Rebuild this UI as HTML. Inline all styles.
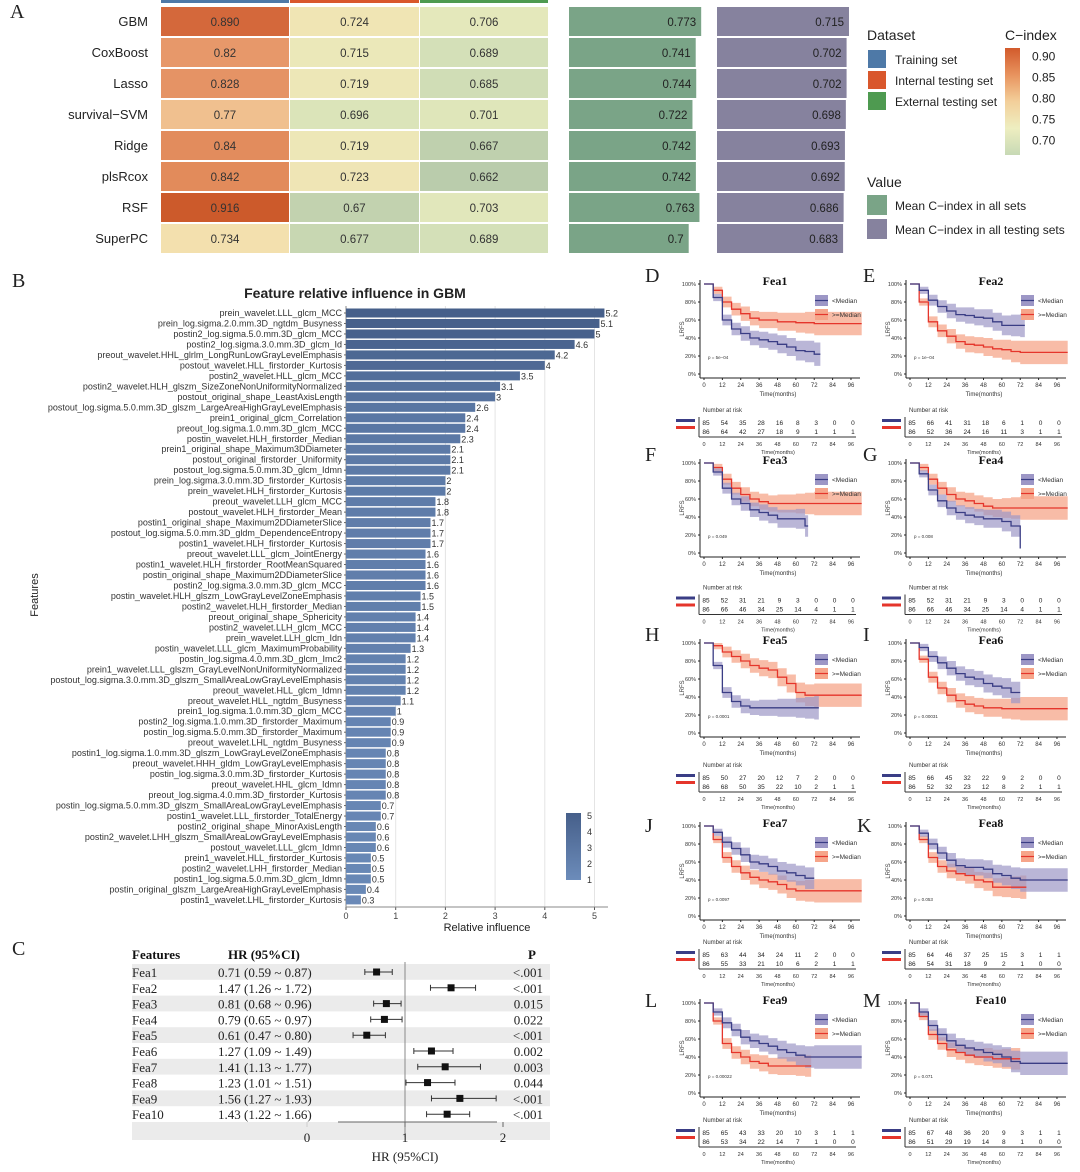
<!DOCTYPE html>
<html><head><meta charset="utf-8"><style>
html,body{margin:0;padding:0;background:#fff;}
svg{display:block;font-family:"Liberation Sans",sans-serif;}
.serif{font-family:"Liberation Serif",serif;}
</style></head><body>
<svg id="fig" xmlns="http://www.w3.org/2000/svg" width="1080" height="1172" viewBox="0 0 1080 1172"></svg>
<script>
// ---------- Panel A data ----------
const models = ["GBM","CoxBoost","Lasso","survival\u2212SVM","Ridge","plsRcox","RSF","SuperPC"];
const trainVals = [0.890,0.82,0.828,0.77,0.84,0.842,0.916,0.734];
const internalVals = [0.724,0.715,0.719,0.696,0.719,0.723,0.67,0.677];
const externalVals = [0.706,0.689,0.685,0.701,0.667,0.662,0.703,0.689];
const trainLabels = ["0.890","0.82","0.828","0.77","0.84","0.842","0.916","0.734"];
const meanAll = [0.773,0.741,0.744,0.722,0.742,0.742,0.763,0.7];
const meanTest = [0.715,0.702,0.702,0.698,0.693,0.692,0.686,0.683];
const cbarTicks = [0.90,0.85,0.80,0.75,0.70];
// ---------- Panel B data ----------
const featNames = ["prein_wavelet.LLL_glcm_MCC","prein_log.sigma.2.0.mm.3D_ngtdm_Busyness","postin2_log.sigma.5.0.mm.3D_glcm_MCC","postin2_log.sigma.3.0.mm.3D_glcm_Id","preout_wavelet.HHL_glrlm_LongRunLowGrayLevelEmphasis","postout_wavelet.HLL_firstorder_Kurtosis","postin2_wavelet.HLL_glcm_MCC","postin2_wavelet.HLH_glszm_SizeZoneNonUniformityNormalized","postout_original_shape_LeastAxisLength","postout_log.sigma.5.0.mm.3D_glszm_LargeAreaHighGrayLevelEmphasis","prein1_original_glcm_Correlation","preout_log.sigma.1.0.mm.3D_glcm_MCC","postin_wavelet.HLH_firstorder_Median","prein1_original_shape_Maximum3DDiameter","postout_original_firstorder_Uniformity","postout_log.sigma.5.0.mm.3D_glcm_Idmn","prein_log.sigma.3.0.mm.3D_firstorder_Kurtosis","prein_wavelet.HLH_firstorder_Kurtosis","preout_wavelet.LLH_glcm_MCC","postout_wavelet.HLH_firstorder_Mean","postin1_original_shape_Maximum2DDiameterSlice","postout_log.sigma.5.0.mm.3D_gldm_DependenceEntropy","postin1_wavelet.HLH_firstorder_Kurtosis","preout_wavelet.LLL_glcm_JointEnergy","postin1_wavelet.HLH_firstorder_RootMeanSquared","postin_original_shape_Maximum2DDiameterSlice","postin2_log.sigma.3.0.mm.3D_glcm_MCC","postin_wavelet.HLH_glszm_LowGrayLevelZoneEmphasis","postin2_wavelet.HLH_firstorder_Median","preout_original_shape_Sphericity","postin2_wavelet.LLH_glcm_MCC","prein_wavelet.LLH_glcm_Idn","postin_wavelet.LLL_glcm_MaximumProbability","postin_log.sigma.4.0.mm.3D_glcm_Imc2","prein1_wavelet.LLL_glszm_GrayLevelNonUniformityNormalized","postout_log.sigma.3.0.mm.3D_glszm_SmallAreaLowGrayLevelEmphasis","preout_wavelet.HLL_glcm_Idmn","preout_wavelet.HLL_ngtdm_Busyness","prein1_log.sigma.1.0.mm.3D_glcm_MCC","postin2_log.sigma.1.0.mm.3D_firstorder_Maximum","postin_log.sigma.5.0.mm.3D_firstorder_Maximum","preout_wavelet.LHL_ngtdm_Busyness","postin1_log.sigma.1.0.mm.3D_glszm_LowGrayLevelZoneEmphasis","preout_wavelet.HHH_gldm_LowGrayLevelEmphasis","postin_log.sigma.3.0.mm.3D_firstorder_Kurtosis","preout_wavelet.HHL_glcm_Idmn","preout_log.sigma.4.0.mm.3D_firstorder_Kurtosis","postin_log.sigma.5.0.mm.3D_glszm_SmallAreaLowGrayLevelEmphasis","postin1_wavelet.LLL_firstorder_TotalEnergy","postin2_original_shape_MinorAxisLength","postin2_wavelet.LHH_glszm_SmallAreaLowGrayLevelEmphasis","postout_wavelet.LLL_glcm_Idmn","prein1_wavelet.HLL_firstorder_Kurtosis","postin2_wavelet.LHH_firstorder_Median","postin1_log.sigma.5.0.mm.3D_glcm_Idmn","postin_original_glszm_LargeAreaHighGrayLevelEmphasis","postin1_wavelet.LHL_firstorder_Kurtosis"];
const featInfl = [5.2,5.1,5,4.6,4.2,4,3.5,3.1,3,2.6,2.4,2.4,2.3,2.1,2.1,2.1,2,2,1.8,1.8,1.7,1.7,1.7,1.6,1.6,1.6,1.6,1.5,1.5,1.4,1.4,1.4,1.3,1.2,1.2,1.2,1.2,1.1,1,0.9,0.9,0.9,0.8,0.8,0.8,0.8,0.8,0.7,0.7,0.6,0.6,0.6,0.5,0.5,0.5,0.4,0.3];
const inflTicks = [0,1,2,3,4,5];
// ---------- Panel C data ----------
const feaLabels = ["Fea1","Fea2","Fea3","Fea4","Fea5","Fea6","Fea7","Fea8","Fea9","Fea10"];
const hrEst = [0.71,1.47,0.81,0.79,0.61,1.27,1.41,1.23,1.56,1.43];
const hrLo = [0.59,1.26,0.68,0.65,0.47,1.09,1.13,1.01,1.27,1.22];
const hrHi = [0.87,1.72,0.96,0.97,0.80,1.49,1.77,1.51,1.93,1.66];
const pLabels = ["<.001","<.001","0.015","0.022","<.001","0.002","0.003","0.044","<.001","<.001"];
const hrTicks = [0,1,2];
// ---------- KM data ----------
const kmTimes = [0,6,12,18,24,30,36,42,48,54,60,66,72];
const kmBlue = [
 [1,.85,.6,.5,.45,.4,.38,.36,.33,.3,.26,.25,.22],
 [1,.93,.82,.75,.7,.66,.65,.63,.62,.58,.54,.54,.54],
 [1,.9,.72,.6,.55,.48,.45,.42,.38,.38,.38,.3,.3],
 [1,.88,.7,.58,.5,.45,.42,.4,.38,.38,.35,.3,.05],
 [1,.75,.45,.35,.3,.28,.28,.28,.28,.28,.28,.28,.28],
 [1,.95,.85,.78,.72,.66,.62,.6,.55,.52,.5,.45,.45],
 [1,.93,.82,.75,.68,.6,.58,.55,.5,.48,.45,.42,.42],
 [1,.92,.8,.7,.62,.56,.54,.54,.52,.47,.45,.42,.4],
 [1,.9,.78,.7,.62,.58,.55,.52,.48,.45,.42,.4,.4],
 [1,.9,.75,.65,.58,.53,.5,.48,.45,.43,.4,.35,.33]];
const kmRed = [
 [1,.93,.8,.72,.67,.62,.6,.6,.58,.58,.57,.57,.56],
 [1,.8,.58,.48,.42,.36,.33,.32,.3,.28,.27,.25,.24],
 [1,.95,.82,.72,.65,.6,.57,.55,.55,.55,.55,.55,.55],
 [1,.95,.82,.72,.65,.6,.58,.55,.52,.5,.5,.5,.5],
 [1,.97,.9,.85,.8,.75,.72,.7,.62,.55,.45,.42,.42],
 [1,.82,.62,.5,.42,.36,.32,.3,.28,.28,.27,.27,.27],
 [1,.85,.65,.55,.48,.43,.4,.38,.35,.3,.28,.28,.28],
 [1,.85,.65,.55,.5,.47,.45,.4,.38,.32,.32,.32,.32],
 [1,.8,.55,.45,.4,.35,.33,.3,.3,.3,.3,.3,.3],
 [1,.85,.65,.55,.48,.45,.42,.4,.4,.38,.38,.38,.38]];
const kmBlueEnd = [76,75,68,72,75,72,72,105,105,105];
const kmRedEnd = [105,105,105,105,105,105,105,76,70,72];
const kmCI = [0,.04,.06,.07,.08,.08,.09,.09,.1,.1,.11,.12,.13];
const kmP = ["p = 5e\u221204","p = 1e\u221204","p = 0.049","p = 0.008","p = 0.0001","p = 0.00031","p = 0.0097","p = 0.053","p = 0.00022","p = 0.071"];
const riskBlue = [[85,54,35,28,16,8,3,0,0],[85,66,41,31,18,6,1,0,0],[85,52,31,21,9,3,0,0,0],[85,52,31,21,9,3,0,0,0],[85,50,27,20,12,7,2,0,0],[85,66,45,32,22,9,2,0,0],[85,63,44,34,24,11,2,0,0],[85,64,46,37,25,15,3,1,1],[85,65,43,33,20,10,3,1,1],[85,67,48,36,20,9,3,1,1]];
const riskRed = [[86,64,42,27,18,9,1,1,1],[86,52,36,24,16,11,3,1,1],[86,66,46,34,25,14,4,1,1],[86,66,46,34,25,14,4,1,1],[86,68,50,35,22,10,2,1,1],[86,52,32,23,12,8,2,1,1],[86,55,33,21,10,6,2,1,1],[86,54,31,18,9,2,1,0,0],[86,53,34,22,14,7,1,0,0],[86,51,29,19,14,8,1,0,0]];
const kmTickLabels = [0,12,24,36,48,60,72,84,96];
const kmYTicks = ["0%","20%","40%","60%","80%","100%"];
const panelLetters = ["D","E","F","G","H","I","J","K","L","M"];

const NS="http://www.w3.org/2000/svg";
const svg=document.getElementById('fig');
function mk(tag,attrs,name,parent){
  const el=document.createElementNS(NS,tag);
  for(const k in attrs) el.setAttribute(k,attrs[k]);
  
  
  (parent||svg).appendChild(el);
  return el;
}
function txt(x,y,s,attrs,name,parent){const t=mk('text',Object.assign({x:x,y:y},attrs||{}),name,parent);t.textContent=s;return t;}
function hex(c){return [parseInt(c.slice(1,3),16),parseInt(c.slice(3,5),16),parseInt(c.slice(5,7),16)];}
function interp(stops,v){
  if(v<=stops[0][0])return stops[0][1];
  for(let i=1;i<stops.length;i++){if(v<=stops[i][0]){const a=stops[i-1],b=stops[i],f=(v-a[0])/(b[0]-a[0]);const ca=hex(a[1]),cb=hex(b[1]);return 'rgb('+ca.map((x,j)=>Math.round(x+(cb[j]-x)*f)).join(',')+')';}}
  return stops[stops.length-1][1];
}
const heatStops=[[0.66,'#b8cbab'],[0.69,'#d5e1b8'],[0.71,'#e8eabc'],[0.73,'#f3e3b1'],[0.77,'#f0c08f'],[0.82,'#e7986a'],[0.85,'#e08656'],[0.89,'#d4683b'],[0.92,'#cb5828']];

// letters
[["A",10,18],["B",12,287],["C",12,955]].forEach(l=>txt(l[1],l[2],l[0],{'font-size':20,'class':'serif',fill:'#222'},'panel-letter-'+l[0].toLowerCase()));

// ---------- Panel A ----------
const gA=mk('g',{},'panel-a-heatmap');
const colX=[161,290,420], colW=[128,129,128], rowY0=7, rowH=31;
[['#4e79a7',0],['#d9572c',1],['#4e9a50',2]].forEach(c=>mk('rect',{x:colX[c[1]],y:0,width:colW[c[1]],height:3,fill:c[0]},'dataset-strip-'+c[1],gA));
const colsVals=[trainVals,internalVals,externalVals];
models.forEach((m,i)=>{
  const y=rowY0+i*rowH;
  txt(148,y+19,m,{'font-size':13,'text-anchor':'end',fill:'#222'},'model-label',gA);
  colsVals.forEach((arr,j)=>{
    mk('rect',{x:colX[j],y:y,width:colW[j],height:rowH-2,fill:interp(heatStops,arr[i])},'heat-cell',gA);
    const lab=j===0?trainLabels[i]:String(arr[i]);
    txt(colX[j]+colW[j]/2,y+19,lab,{'font-size':11.5,'text-anchor':'middle',fill:'#333'},'heat-value',gA);
  });
  const wA=(meanAll[i])*171;
  mk('rect',{x:569,y:y,width:wA,height:rowH-2,fill:'#7aa487'},'mean-all-bar',gA);
  txt(569+wA-5,y+19,String(meanAll[i]),{'font-size':11.5,'text-anchor':'end',fill:'#222'},'mean-all-value',gA);
  const wT=(meanTest[i])*184.6;
  mk('rect',{x:717,y:y,width:wT,height:rowH-2,fill:'#86829e'},'mean-test-bar',gA);
  txt(717+wT-5,y+19,String(meanTest[i]),{'font-size':11.5,'text-anchor':'end',fill:'#222'},'mean-test-value',gA);
});
// legends
const gL=mk('g',{},'panel-a-legend');
txt(867,40,'Dataset',{'font-size':14,fill:'#222'},'legend-title-dataset',gL);
[['#4e79a7','Training set'],['#d9572c','Internal testing set'],['#4e9a50','External testing set']].forEach((d,i)=>{
  mk('rect',{x:868,y:50+i*21,width:18,height:18,fill:d[0]},'legend-swatch',gL);
  txt(895,64+i*21,d[1],{'font-size':12,fill:'#222'},'legend-entry',gL);
});
txt(1005,40,'C\u2212index',{'font-size':14,fill:'#222'},'legend-title-cindex',gL);
const defs=mk('defs',{},'defs');
const lg=mk('linearGradient',{id:'cg',x1:0,y1:1,x2:0,y2:0},'cindex-gradient',defs);
[[0,'#c7d9b5'],[0.25,'#eeeec0'],[0.5,'#f3cf9a'],[0.75,'#e8935e'],[1,'#d25a2c']].forEach(s=>mk('stop',{offset:s[0],'stop-color':s[1]},'gradient-stop',lg));
mk('rect',{x:1005,y:48,width:15,height:107,fill:'url(#cg)'},'cindex-colorbar',gL);
const cbY=v=>155-(v-0.665)/(0.92-0.665)*107;
cbarTicks.forEach(v=>txt(1032,cbY(v)+4,v.toFixed(2),{'font-size':12,fill:'#222'},'colorbar-tick',gL));
txt(867,187,'Value',{'font-size':14,fill:'#222'},'legend-title-value',gL);
[['#7aa487','Mean C\u2212index in all sets'],['#86829e','Mean C\u2212index in all testing sets']].forEach((d,i)=>{
  mk('rect',{x:867,y:195+i*24,width:20,height:20,fill:d[0]},'legend-swatch',gL);
  txt(895,210+i*24,d[1],{'font-size':12,fill:'#222'},'legend-entry',gL);
});

// ---------- Panel B ----------
const gB=mk('g',{},'panel-b-influence-chart');
const bx0=346, bScale=49.7, bTop=313, bStep=10.48, bBottom=907;
const bxs=v=>bx0+v*bScale;
inflTicks.forEach(t=>{
  mk('line',{x1:bxs(t),x2:bxs(t),y1:306,y2:bBottom,stroke:'#e4e4e4','stroke-width':1},'grid-line',gB);
  mk('line',{x1:bxs(t),x2:bxs(t),y1:bBottom,y2:bBottom+3,stroke:'#555'},'x-tick',gB);
  txt(bxs(t),bBottom+12,String(t),{'font-size':9,'text-anchor':'middle',fill:'#444'},'x-tick-label',gB);
});
mk('line',{x1:bx0,x2:608,y1:bBottom,y2:bBottom,stroke:'#888'},'x-axis-line',gB);
mk('line',{x1:bx0,x2:bx0,y1:306,y2:bBottom,stroke:'#888'},'y-axis-line',gB);
txt(355,298,'Feature relative influence in GBM',{'font-size':14,'font-weight':'bold','text-anchor':'middle',fill:'#222'},'chart-title',gB);
txt(487,931,'Relative influence',{'font-size':11,'text-anchor':'middle',fill:'#222'},'x-axis-title',gB);
txt(0,0,'Features',{'font-size':11,'text-anchor':'middle',fill:'#222',transform:'translate(38,595) rotate(-90)'},'y-axis-title',gB);
const barStops=[[0,'#6c8cba'],[5.2,'#465f8a']];
featNames.forEach((n,i)=>{
  const yc=bTop+i*bStep;
  txt(bx0-4,yc+3,n,{'font-size':9,'text-anchor':'end',fill:'#333'},'feature-label',gB);
  mk('line',{x1:bx0-2,x2:bx0,y1:yc,y2:yc,stroke:'#666'},'y-tick',gB);
  mk('rect',{x:bx0,y:yc-4.5,width:bxs(featInfl[i])-bx0,height:9,fill:interp(barStops,featInfl[i])},'influence-bar',gB);
  txt(bxs(featInfl[i])+1,yc+3.5,String(featInfl[i]),{'font-size':9,fill:'#333'},'bar-value',gB);
});
const lg2=mk('linearGradient',{id:'bg',x1:0,y1:1,x2:0,y2:0},'influence-gradient',defs);
[[0,'#6c8cba'],[1,'#465f8a']].forEach(s=>mk('stop',{offset:s[0],'stop-color':s[1]},'gradient-stop',lg2));
mk('rect',{x:566,y:813,width:15,height:67,fill:'url(#bg)'},'influence-colorbar',gB);
[5,4,3,2,1].forEach((v,i)=>txt(587,819+i*16,String(v),{'font-size':9,fill:'#333'},'colorbar-tick',gB));

// ---------- Panel C ----------
const gC=mk('g',{},'panel-c-forest-plot');
const hx=v=>307+98*v;
const cRow0=972, cStep=15.8;
feaLabels.forEach((f,i)=>{if(i%2===0)mk('rect',{x:132,y:cRow0+i*cStep-8,width:418,height:cStep,fill:'#ebebeb'},'row-shade',gC);});
mk('rect',{x:132,y:cRow0+10*cStep-8,width:418,height:18,fill:'#ebebeb'},'axis-row-shade',gC);
txt(132,959,'Features',{'font-size':13,'font-weight':'bold','class':'serif',fill:'#111'},'header-features',gC);
txt(228,959,'HR (95%CI)',{'font-size':13,'font-weight':'bold','class':'serif',fill:'#111'},'header-hr',gC);
txt(528,959,'P',{'font-size':13,'font-weight':'bold','class':'serif',fill:'#111'},'header-p',gC);
mk('line',{x1:hx(1),x2:hx(1),y1:962,y2:1137,stroke:'#888','stroke-width':1},'reference-line',gC);
feaLabels.forEach((f,i)=>{
  const y=cRow0+i*cStep;
  txt(132,y+5,f,{'font-size':13,'class':'serif',fill:'#222'},'feature-name',gC);
  txt(218,y+5,hrEst[i].toFixed(2)+' ('+hrLo[i].toFixed(2)+' ~ '+hrHi[i].toFixed(2)+')',{'font-size':13,'class':'serif',fill:'#222'},'hr-text',gC);
  txt(543,y+5,pLabels[i],{'font-size':13,'class':'serif','text-anchor':'end',fill:'#222'},'p-value',gC);
  mk('line',{x1:hx(hrLo[i]),x2:hx(hrHi[i]),y1:y,y2:y,stroke:'#333','stroke-width':1},'ci-line',gC);
  mk('line',{x1:hx(hrLo[i]),x2:hx(hrLo[i]),y1:y-3,y2:y+3,stroke:'#333'},'ci-cap',gC);
  mk('line',{x1:hx(hrHi[i]),x2:hx(hrHi[i]),y1:y-3,y2:y+3,stroke:'#333'},'ci-cap',gC);
  mk('rect',{x:hx(hrEst[i])-3.5,y:y-3.5,width:7,height:7,fill:'#111'},'hr-point',gC);
});
mk('line',{x1:338,x2:497,y1:1122,y2:1122,stroke:'#666'},'x-axis-line',gC);
hrTicks.forEach(t=>{
  mk('line',{x1:hx(t),x2:hx(t),y1:1122,y2:1127,stroke:t===0?'#ccc':'#666'},'x-tick',gC);
  txt(hx(t),1142,String(t),{'font-size':13,'class':'serif','text-anchor':'middle',fill:'#222'},'x-tick-label',gC);
});
txt(hx(1),1161,'HR (95%CI)',{'font-size':13,'class':'serif','text-anchor':'middle',fill:'#222'},'x-axis-title',gC);

// ---------- KM panels ----------
const rowOff=[0,179,359,542,719];
const riskOff=[0,177.5,355,532,710];
const BLUE='#3a3d85', RED='#e5352b';
function stepPath(vals,end,xs,ys,clipEnd){
  let d='M'+xs(0)+','+ys(vals[0]);
  for(let i=1;i<kmTimes.length;i++){
    if(kmTimes[i]>end)break;
    d+=' H'+xs(kmTimes[i])+' V'+ys(vals[i]);
  }
  d+=' H'+xs(Math.min(end,clipEnd));
  return d;
}
function bandPath(vals,end,xs,ys,clipEnd){
  const up=[],lo=[];
  for(let i=0;i<kmTimes.length;i++){
    if(kmTimes[i]>end)break;
    const t1=(i+1<kmTimes.length&&kmTimes[i+1]<=end)?kmTimes[i+1]:Math.min(end,clipEnd);
    const u=Math.min(1,vals[i]+kmCI[i]), l=Math.max(0,vals[i]-kmCI[i]);
    up.push([xs(kmTimes[i]),ys(u)],[xs(t1),ys(u)]);
    lo.push([xs(kmTimes[i]),ys(l)],[xs(t1),ys(l)]);
  }
  return 'M'+up.map(p=>p.join(',')).join(' L')+' L'+lo.reverse().map(p=>p.join(',')).join(' L')+' Z';
}
for(let k=0;k<10;k++){
  const cx=(k%2)*206, ry=rowOff[Math.floor(k/2)], rr=riskOff[Math.floor(k/2)];
  const g=mk('g',{},'km-panel-'+feaLabels[k].toLowerCase());
  const xs=t=>704+cx+t*1.531, ys=v=>374+ry-v*90;
  const clipEnd=103;
  txt(645+(k%2)*218-(k===7?6:0),282+ry+(k>=6?8:0)+(k>=8?-2:0),panelLetters[k],{'font-size':20,'class':'serif',fill:'#222'},'panel-letter',g);
  txt(775+cx+10*(k%2),285+ry,feaLabels[k],{'font-size':12,'font-weight':'bold','class':'serif','text-anchor':'middle',fill:'#111'},'km-title',g);
  mk('path',{d:bandPath(kmRed[k],kmRedEnd[k],xs,ys,clipEnd),fill:'#f6a58a','fill-opacity':0.75},'ci-band-high',g);
  mk('path',{d:bandPath(kmBlue[k],kmBlueEnd[k],xs,ys,clipEnd),fill:'#9d97c6','fill-opacity':0.7},'ci-band-low',g);
  mk('path',{d:stepPath(kmRed[k],kmRedEnd[k],xs,ys,clipEnd),fill:'none',stroke:RED,'stroke-width':1.3},'curve-high',g);
  mk('path',{d:stepPath(kmBlue[k],kmBlueEnd[k],xs,ys,clipEnd),fill:'none',stroke:BLUE,'stroke-width':1.3},'curve-low',g);
  mk('line',{x1:700+cx,x2:700+cx,y1:280+ry,y2:378+ry,stroke:'#222'},'y-axis',g);
  mk('line',{x1:700+cx,x2:860+cx,y1:378+ry,y2:378+ry,stroke:'#222'},'x-axis',g);
  kmYTicks.forEach((l,i)=>{
    const y=ys(i*0.2);
    mk('line',{x1:698+cx,x2:700+cx,y1:y,y2:y,stroke:'#222'},'y-tick',g);
    txt(696+cx,y+2,l,{'font-size':5.5,'text-anchor':'end',fill:'#333'},'y-tick-label',g);
  });
  kmTickLabels.forEach(t=>{
    mk('line',{x1:xs(t),x2:xs(t),y1:378+ry,y2:380+ry,stroke:'#222'},'x-tick',g);
    txt(xs(t),387+ry,String(t),{'font-size':6,'text-anchor':'middle',fill:'#333'},'x-tick-label',g);
  });
  txt(778+cx,396+ry,'Time(months)',{'font-size':6,'text-anchor':'middle',fill:'#333'},'x-axis-title',g);
  txt(0,0,'LRFS',{'font-size':6,'text-anchor':'middle',fill:'#333',transform:'translate('+(684+cx)+','+(329+ry)+') rotate(-90)'},'y-axis-title',g);
  txt(708+cx,359+ry,kmP[k],{'font-size':4.5,fill:'#333'},'p-value',g);
  mk('rect',{x:815+cx,y:295+ry,width:13,height:11,fill:'#9d97c6'},'legend-swatch-low',g);
  mk('line',{x1:815+cx,x2:828+cx,y1:300.5+ry,y2:300.5+ry,stroke:BLUE,'stroke-width':1.2},'legend-line-low',g);
  txt(832+cx,303+ry,'<Median',{'font-size':6.5,fill:'#333'},'legend-entry-low',g);
  mk('rect',{x:815+cx,y:309+ry,width:13,height:11,fill:'#f6a58a'},'legend-swatch-high',g);
  mk('line',{x1:815+cx,x2:828+cx,y1:314.5+ry,y2:314.5+ry,stroke:RED,'stroke-width':1.2},'legend-line-high',g);
  txt(832+cx,317+ry,'>=Median',{'font-size':6.5,fill:'#333'},'legend-entry-high',g);
  // risk table
  txt(703+cx,412+rr,'Number at risk',{'font-size':6,fill:'#333'},'risk-title',g);
  mk('rect',{x:676+cx,y:419+rr,width:19,height:3,fill:BLUE},'risk-color-low',g);
  mk('rect',{x:676+cx,y:426+rr,width:19,height:3,fill:RED},'risk-color-high',g);
  mk('line',{x1:699+cx,x2:699+cx,y1:417+rr,y2:437+rr,stroke:'#333'},'risk-axis-y',g);
  mk('line',{x1:699+cx,x2:856+cx,y1:437+rr,y2:437+rr,stroke:'#333'},'risk-axis-x',g);
  kmTickLabels.forEach((t,j)=>{
    txt(xs(t)+2,425+rr,String(riskBlue[k][j]),{'font-size':6.5,'text-anchor':'middle',fill:'#222'},'risk-low',g);
    txt(xs(t)+2,434+rr,String(riskRed[k][j]),{'font-size':6.5,'text-anchor':'middle',fill:'#222'},'risk-high',g);
    txt(xs(t),446+rr,String(t),{'font-size':5.5,'text-anchor':'middle',fill:'#333'},'risk-tick-label',g);
  });
  txt(778+cx,454+rr,'Time(months)',{'font-size':5.5,'text-anchor':'middle',fill:'#333'},'risk-x-title',g);
}
</script>
</body></html>
